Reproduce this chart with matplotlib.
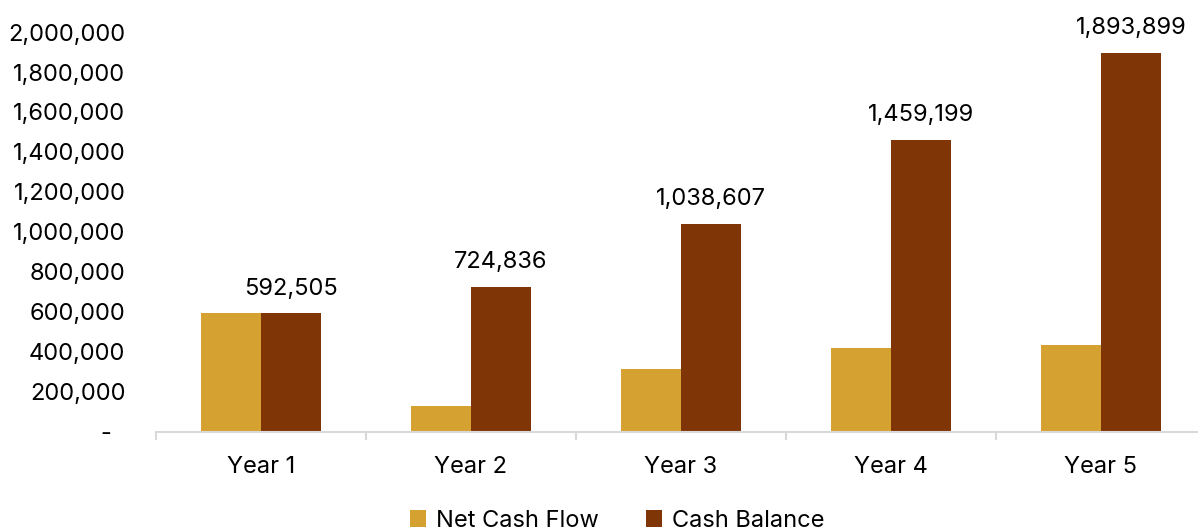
import matplotlib.pyplot as plt
from matplotlib.ticker import FuncFormatter, FixedLocator
import numpy as np

years = ["Year 1", "Year 2", "Year 3", "Year 4", "Year 5"]
net_cash_flow = [592505, 132331, 313771, 420592, 434700]
cash_balance = [592505, 724836, 1038607, 1459199, 1893899]

gold = "#D5A130"
brown = "#7F3506"
axis_grey = "#D9D9D9"

plt.rcParams["font.family"] = ["Inter", "DejaVu Sans"]

fig = plt.figure(figsize=(11.98, 5.31), dpi=100)
ax = fig.add_axes([156 / 1198, 99 / 531, 1050 / 1198, 400 / 531])

x = np.arange(len(years))
w = 60 / 210
ax.bar(x - w / 2, net_cash_flow, w, color=gold, label="Net Cash Flow")
bars = ax.bar(x + w / 2, cash_balance, w, color=brown, label="Cash Balance")

for b, v in zip(bars, cash_balance):
    ax.annotate(f"{v:,}", (b.get_x() + b.get_width() / 2, v),
                xytext=(0, 10), textcoords="offset points",
                ha="center", va="bottom", fontsize=17, color="#000000")

ax.set_xlim(-0.5, len(years) - 0.5)
ax.set_ylim(0, 2000000)
ax.set_yticks(np.arange(0, 2000001, 200000))
ax.yaxis.set_major_formatter(FuncFormatter(lambda v, p: f"{v:,.0f}" if v else "-  "))
ax.tick_params(axis="y", length=0, pad=22, labelsize=17)

ax.set_xticks(x)
ax.set_xticklabels(years)
ax.tick_params(axis="x", which="major", length=0, pad=17, labelsize=17)
ax.xaxis.set_minor_locator(FixedLocator(np.arange(-0.5, len(years), 1.0)))
ax.tick_params(axis="x", which="minor", length=6, width=1.5, color=axis_grey)

for s in ["top", "right", "left"]:
    ax.spines[s].set_visible(False)
ax.spines["bottom"].set_color(axis_grey)
ax.spines["bottom"].set_linewidth(1.5)

fig.legend(loc="center", bbox_to_anchor=(617 / 1198, 1 - 521 / 531), ncol=2,
           frameon=False, fontsize=17, handlelength=0.7, handleheight=0.7,
           handletextpad=0.4, columnspacing=2.0)

fig.savefig("out.png", dpi=100)
